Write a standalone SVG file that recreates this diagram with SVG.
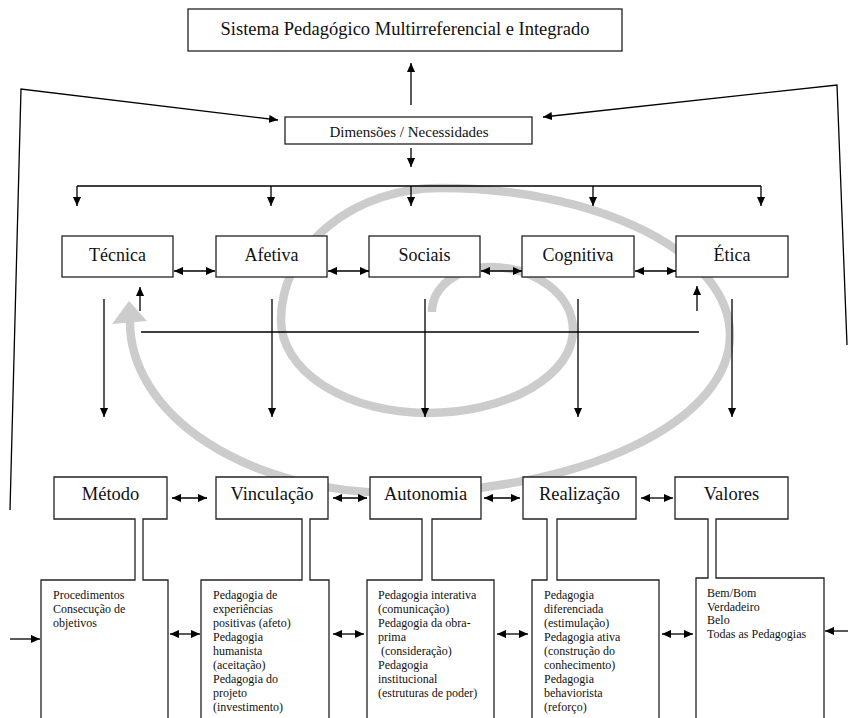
<svg xmlns="http://www.w3.org/2000/svg" width="848" height="718" viewBox="0 0 848 718">
<style>
.box{fill:#fff;stroke:#222;stroke-width:1.3}
.ln{fill:none;stroke:#000;stroke-width:1.3}
.t{fill:#111;text-anchor:middle}
.h{font-size:18px}
.b{fill:#111;font-size:12px}
</style>
<defs>
<marker id="ah" viewBox="0 0 10 10" refX="10" refY="5" markerWidth="9" markerHeight="9" markerUnits="userSpaceOnUse" orient="auto-start-reverse">
<path d="M0,0.5 L10,5 L0,9.5 z" fill="#000"/>
</marker>
</defs>
<rect width="848" height="718" fill="#fff"/>
<g id="spiral">
<path d="M432,312 A58,45 0 0 1 490,267 A83,63 0 0 1 573,330 A146,83 0 0 1 427,413 A146,93 0 0 1 281,320 A159,132 0 0 1 440,188 A290,147 0 0 1 730,335 A335,158 0 0 1 395,493 A265,171 0 0 1 130,322" fill="none" stroke="#cccccc" stroke-width="8.5"/>
<polygon points="129,301 112,324 147,321" fill="#cccccc"/>
</g>
<g font-family="Liberation Serif, Times New Roman, DejaVu Serif, serif">
<g id="top">
<rect class="box" x="188" y="9" width="434" height="42"/>
<text class="t" x="405" y="35" font-size="18.5">Sistema Pedagógico Multirreferencial e Integrado</text>
</g>
<g id="dimensoes">
<rect class="box" x="285" y="117" width="247" height="27"/>
<text class="t" x="409" y="137" font-size="15">Dimensões / Necessidades</text>
</g>
<g id="tecnica"><rect class="box" x="62" y="236" width="111" height="41"/><text class="t h" x="117.5" y="261">Técnica</text></g>
<g id="afetiva"><rect class="box" x="216" y="236" width="111" height="41"/><text class="t h" x="271.5" y="261">Afetiva</text></g>
<g id="sociais"><rect class="box" x="369" y="236" width="111" height="41"/><text class="t h" x="424.5" y="261">Sociais</text></g>
<g id="cognitiva"><rect class="box" x="522" y="236" width="112" height="41"/><text class="t h" x="578" y="261">Cognitiva</text></g>
<g id="etica"><rect class="box" x="676" y="236" width="112" height="41"/><text class="t h" x="732" y="261">Ética</text></g>
<g id="metodo">
<path class="box" d="M54,477 H167 V519 H143 V580 H168 V730 H41 V580 H135 V519 H54 Z"/>
<text class="t" x="110.5" y="500" font-size="18.5">Método</text>
<text class="b" x="53" y="599"><tspan x="53">Procedimentos</tspan><tspan x="53" dy="14">Consecução de</tspan><tspan x="53" dy="14">objetivos</tspan></text>
</g>
<g id="vinculacao">
<path class="box" d="M216,477 H328 V519 H310 V580 H329 V730 H201 V580 H302 V519 H216 Z"/>
<text class="t" x="272" y="500" font-size="18.5">Vinculação</text>
<text class="b" x="213" y="599"><tspan x="213">Pedagogia de</tspan><tspan x="213" dy="14">experiências</tspan><tspan x="213" dy="14">positivas (afeto)</tspan><tspan x="213" dy="14">Pedagogia</tspan><tspan x="213" dy="14">humanista</tspan><tspan x="213" dy="14">(aceitação)</tspan><tspan x="213" dy="14">Pedagogia do</tspan><tspan x="213" dy="14">projeto</tspan><tspan x="213" dy="14">(investimento)</tspan></text>
</g>
<g id="autonomia">
<path class="box" d="M370,477 H481 V519 H432 V580 H494 V730 H367 V580 H422 V519 H370 Z"/>
<text class="t" x="425.5" y="500" font-size="18.5">Autonomia</text>
<text class="b" x="378" y="599"><tspan x="378">Pedagogia interativa</tspan><tspan x="378" dy="14">(comunicação)</tspan><tspan x="378" dy="14">Pedagogia da obra-</tspan><tspan x="378" dy="14">prima</tspan><tspan x="381" dy="14">(consideração)</tspan><tspan x="378" dy="14">Pedagogia</tspan><tspan x="378" dy="14">institucional</tspan><tspan x="378" dy="14">(estruturas de poder)</tspan></text>
</g>
<g id="realizacao">
<path class="box" d="M523,477 H636 V519 H557 V580 H659 V730 H532 V580 H547 V519 H523 Z"/>
<text class="t" x="579.5" y="500" font-size="18.5">Realização</text>
<text class="b" x="544" y="599"><tspan x="544">Pedagogia</tspan><tspan x="544" dy="14">diferenciada</tspan><tspan x="544" dy="14">(estimulação)</tspan><tspan x="544" dy="14">Pedagogia ativa</tspan><tspan x="544" dy="14">(construção do</tspan><tspan x="544" dy="14">conhecimento)</tspan><tspan x="544" dy="14">Pedagogia</tspan><tspan x="544" dy="14">behaviorista</tspan><tspan x="544" dy="14">(reforço)</tspan></text>
</g>
<g id="valores">
<path class="box" d="M675,477 H788 V519 H716 V578 H824 V730 H696 V578 H708 V519 H675 Z"/>
<text class="t" x="731.5" y="500" font-size="18.5">Valores</text>
<text class="b" x="707" y="597"><tspan x="707">Bem/Bom</tspan><tspan x="707" dy="13.5">Verdadeiro</tspan><tspan x="707" dy="13.5">Belo</tspan><tspan x="707" dy="13.5">Todas as Pedagogias</tspan></text>
</g>
</g>
<g id="connectors" class="ln">
<line x1="411" y1="105" x2="411" y2="63" marker-end="url(#ah)"/>
<line x1="411" y1="148" x2="411" y2="167" marker-end="url(#ah)"/>
<line x1="77" y1="186" x2="761" y2="186"/>
<line x1="77" y1="186" x2="77" y2="206" marker-end="url(#ah)"/>
<line x1="271" y1="186" x2="271" y2="206" marker-end="url(#ah)"/>
<line x1="411" y1="186" x2="411" y2="206" marker-end="url(#ah)"/>
<line x1="593" y1="186" x2="593" y2="206" marker-end="url(#ah)"/>
<line x1="761" y1="186" x2="761" y2="206" marker-end="url(#ah)"/>
<polyline points="10,510 21,89 278,120" marker-end="url(#ah)"/>
<polyline points="847,345 837,85 543,117" marker-end="url(#ah)"/>
<line x1="174" y1="271" x2="215" y2="271" marker-start="url(#ah)" marker-end="url(#ah)"/>
<line x1="328" y1="271" x2="369" y2="271" marker-start="url(#ah)" marker-end="url(#ah)"/>
<line x1="481" y1="271" x2="522" y2="271" marker-start="url(#ah)" marker-end="url(#ah)"/>
<line x1="635" y1="271" x2="676" y2="271" marker-start="url(#ah)" marker-end="url(#ah)"/>
<line x1="140" y1="311" x2="140" y2="287" marker-end="url(#ah)"/>
<line x1="697" y1="311" x2="697" y2="286" marker-end="url(#ah)"/>
<line x1="141" y1="332" x2="699" y2="332"/>
<line x1="104" y1="299" x2="104" y2="417" marker-end="url(#ah)"/>
<line x1="272" y1="299" x2="272" y2="417" marker-end="url(#ah)"/>
<line x1="425" y1="299" x2="425" y2="417" marker-end="url(#ah)"/>
<line x1="578" y1="299" x2="578" y2="417" marker-end="url(#ah)"/>
<line x1="732" y1="299" x2="732" y2="417" marker-end="url(#ah)"/>
<line x1="172" y1="498" x2="207" y2="498" marker-start="url(#ah)" marker-end="url(#ah)"/>
<line x1="333" y1="498" x2="367" y2="498" marker-start="url(#ah)" marker-end="url(#ah)"/>
<line x1="484" y1="498" x2="520" y2="498" marker-start="url(#ah)" marker-end="url(#ah)"/>
<line x1="641" y1="498" x2="673" y2="498" marker-start="url(#ah)" marker-end="url(#ah)"/>
<line x1="170" y1="634" x2="200" y2="634" marker-start="url(#ah)" marker-end="url(#ah)"/>
<line x1="333" y1="634" x2="364" y2="634" marker-start="url(#ah)" marker-end="url(#ah)"/>
<line x1="497" y1="634" x2="528" y2="634" marker-start="url(#ah)" marker-end="url(#ah)"/>
<line x1="662" y1="634" x2="693" y2="634" marker-start="url(#ah)" marker-end="url(#ah)"/>
<line x1="10" y1="639" x2="40" y2="639" marker-end="url(#ah)"/>
<line x1="848" y1="631" x2="825" y2="631" marker-end="url(#ah)"/>
</g>
</svg>
